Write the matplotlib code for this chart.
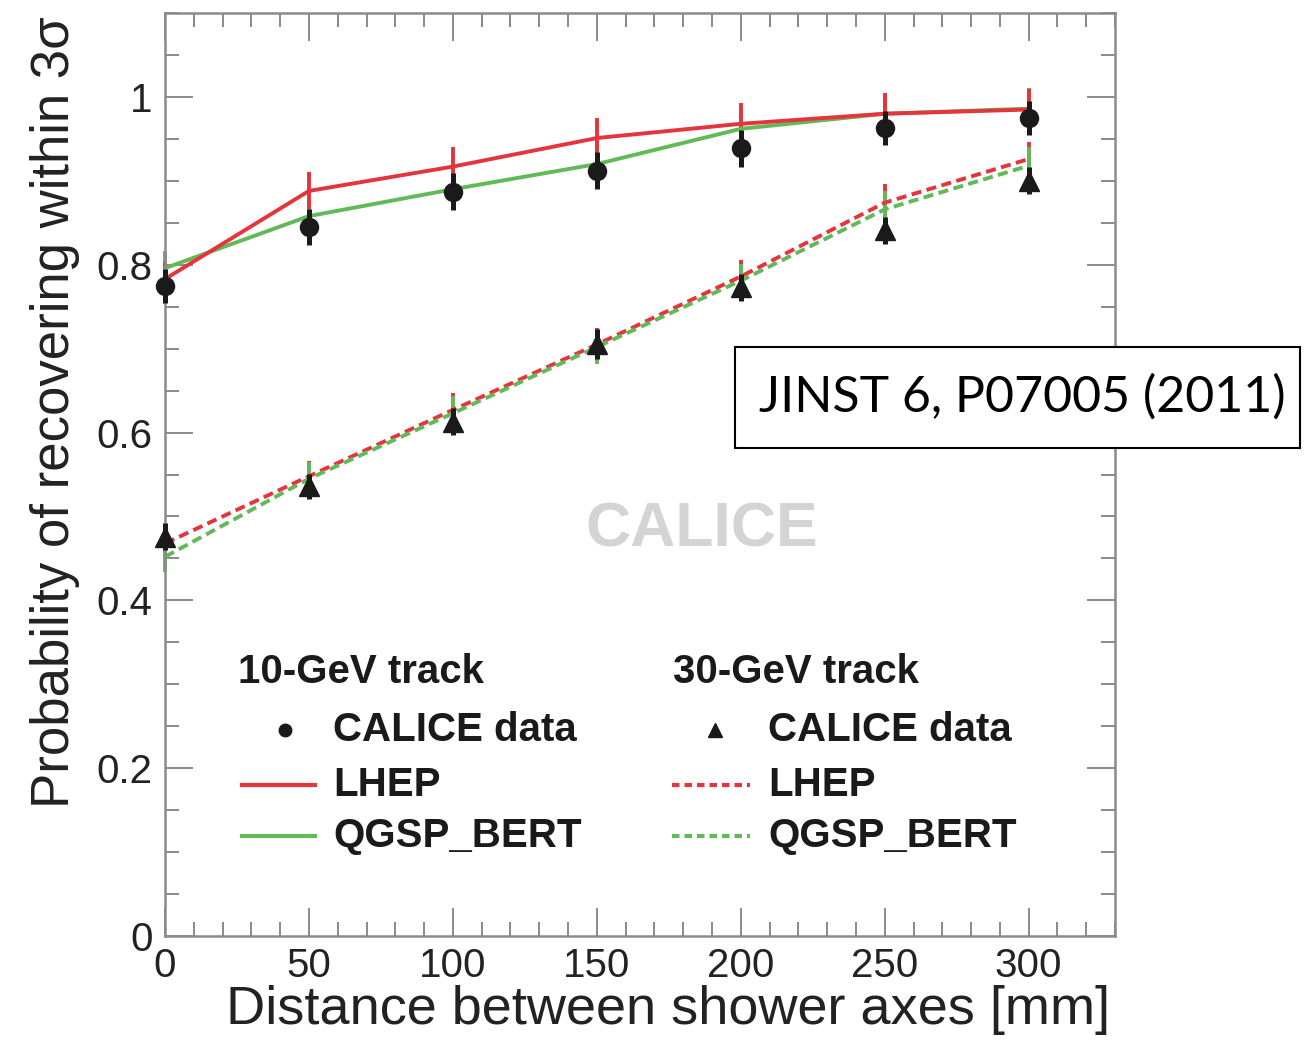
import matplotlib
matplotlib.use("Agg")
import matplotlib.pyplot as plt
from matplotlib.patches import Rectangle
from matplotlib.ticker import MultipleLocator, FuncFormatter

RED = "#e5343c"
GREEN = "#62b957"
GREY = "#8a8a8a"

distance = [0, 50, 100, 150, 200, 250, 300]

# 10-GeV track
data_10 = [0.775, 0.845, 0.887, 0.912, 0.939, 0.963, 0.975]
data_10_err = [0.02, 0.022, 0.022, 0.022, 0.022, 0.02, 0.02]
lhep_10 = [0.783, 0.888, 0.917, 0.951, 0.968, 0.980, 0.985]
lhep_10_err = [0.02, 0.022, 0.023, 0.024, 0.025, 0.025, 0.025]
qgsp_10 = [0.796, 0.858, 0.890, 0.920, 0.962, 0.980, 0.986]
qgsp_10_err = [0.02, 0.02, 0.022, 0.022, 0.022, 0.025, 0.025]

# 30-GeV track
data_30 = [0.476, 0.536, 0.613, 0.706, 0.773, 0.841, 0.900]
data_30_err = [0.016, 0.015, 0.016, 0.018, 0.016, 0.016, 0.016]
lhep_30 = [0.468, 0.548, 0.627, 0.705, 0.786, 0.874, 0.926]
lhep_30_err = [0.018, 0.018, 0.02, 0.02, 0.02, 0.022, 0.02]
qgsp_30 = [0.452, 0.545, 0.623, 0.702, 0.781, 0.866, 0.918]
qgsp_30_err = [0.018, 0.02, 0.02, 0.02, 0.02, 0.022, 0.022]

plt.rcParams["font.family"] = ["Liberation Sans", "DejaVu Sans"]

fig = plt.figure(figsize=(13.11, 10.51), dpi=100)
ax = fig.add_axes([0.1259, 0.1094, 0.7246, 0.8782])

dash = (0, (2.6, 1.4))
for y, e, c, ls in [(lhep_30, lhep_30_err, RED, dash), (qgsp_30, qgsp_30_err, GREEN, dash),
                    (qgsp_10, qgsp_10_err, GREEN, "-"), (lhep_10, lhep_10_err, RED, "-")]:
    ax.errorbar(distance, y, yerr=e, color=c, ecolor=c, elinewidth=2.8, capsize=0,
                lw=2.8, ls=ls, zorder=2, clip_on=False)

ax.errorbar(distance, data_10, yerr=data_10_err, fmt="o", color="#1a1a1a", ms=13,
            elinewidth=3.6, capsize=0, zorder=4, clip_on=False)
ax.errorbar(distance, data_30, yerr=data_30_err, fmt="^", color="#1a1a1a", ms=14,
            elinewidth=3.6, capsize=0, zorder=4, clip_on=False)

ax.set_xlim(0, 330)
ax.set_ylim(0, 1.1)
ax.xaxis.set_major_locator(MultipleLocator(50))
ax.xaxis.set_minor_locator(MultipleLocator(10))
ax.yaxis.set_major_locator(MultipleLocator(0.2))
ax.yaxis.set_minor_locator(MultipleLocator(0.05))
ax.yaxis.set_major_formatter(FuncFormatter(lambda v, p: "0" if abs(v) < 1e-9 else ("1" if abs(v - 1) < 1e-9 else f"{v:.1f}")))
ax.set_xticks([0, 50, 100, 150, 200, 250, 300])

for s in ax.spines.values():
    s.set_color(GREY)
    s.set_linewidth(1.8)
ax.tick_params(which="both", direction="in", top=True, right=True, color=GREY, width=1.4,
               labelsize=29, labelcolor="#222222")
ax.tick_params(which="major", length=20)
ax.tick_params(which="minor", length=10)
ax.tick_params(axis="x", pad=8)
ax.tick_params(axis="y", pad=9)

ax.set_xlabel("Distance between shower axes [mm]", fontsize=39, color="#222222")
ax.set_ylabel("Probability of recovering within 3σ", fontsize=38, color="#222222")
ax.xaxis.set_label_coords(0.53, -0.053)
ax.yaxis.set_label_coords(-0.09, 0.568)

# watermark
ax.text(0.565, 0.44, "CALICE", transform=ax.transAxes, fontsize=45, fontweight="bold",
        color="#d4d4d4", ha="center", va="center", zorder=1)

# legend drawn by hand
tx = ax.transAxes
lkw = dict(transform=tx, fontsize=29, fontweight="bold", color="#1a1a1a", va="center")
rows = [0.223, 0.1636, 0.108]
ax.text(0.0768, 0.286, "10-GeV track", **lkw)
ax.text(0.535, 0.286, "30-GeV track", **lkw)
ax.plot([0.126], [rows[0]], "o", color="#1a1a1a", ms=9, transform=tx)
ax.plot([0.579], [rows[0]], "^", color="#1a1a1a", ms=10, transform=tx)
ax.plot([0.081, 0.158], [rows[1]] * 2, color=RED, lw=3, transform=tx)
ax.plot([0.081, 0.158], [rows[2]] * 2, color=GREEN, lw=3, transform=tx)
ax.plot([0.534, 0.616], [rows[1]] * 2, color=RED, lw=3, ls=(0, (1.8, 1.2)), transform=tx)
ax.plot([0.534, 0.616], [rows[2]] * 2, color=GREEN, lw=3, ls=(0, (1.8, 1.2)), transform=tx)
for lx in (0.177, 0.635):
    for r, t in zip(rows, ["CALICE data", "LHEP", "QGSP_BERT"]):
        ax.text(lx, r, t, **lkw)

# reference box
fig.patches.append(Rectangle((735 / 1311, 1 - 448 / 1051), 565 / 1311, 101 / 1051,
                             transform=fig.transFigure, facecolor="white",
                             edgecolor="black", lw=1.5, zorder=10))
fig.text(1022 / 1311, 1 - 397 / 1051, "JINST 6, P07005 (2011)", fontsize=36,
         family=["Lato", "DejaVu Sans"], ha="center", va="center", zorder=11)

fig.savefig("out.png", dpi=100, facecolor="white")
